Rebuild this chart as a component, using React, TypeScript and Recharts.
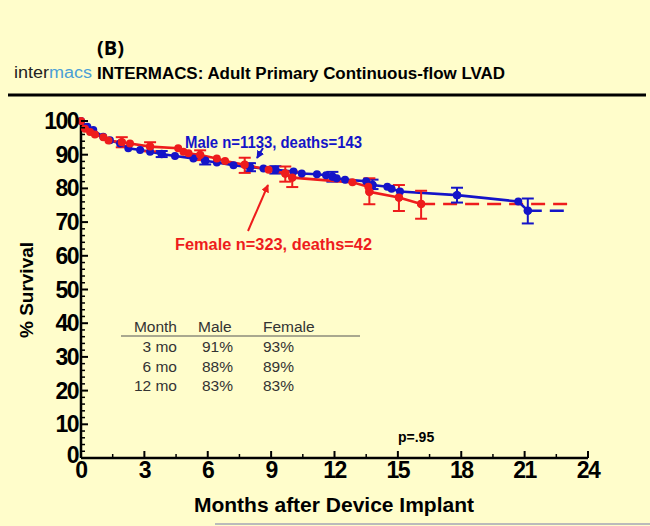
import React from 'react';
import { ComposedChart, Line, Scatter, XAxis, YAxis, ErrorBar } from 'recharts';

// Kaplan-Meier survival
const maleMonths = [0, 0.3, 0.58, 1.05, 1.37, 1.85, 2.24, 2.8, 3.27, 3.82, 4.45, 5.32, 5.88, 6.43, 7.22, 8.0, 8.64, 9.2, 10.06, 10.45, 11.17, 11.6, 11.9, 12.1, 12.5, 13.5, 13.8, 14.5, 14.7, 15.1, 17.8, 20.7, 21.15];
const maleSurvival = [100, 98.3, 97.3, 95.3, 94.3, 93.3, 91.9, 91.4, 90.9, 90.2, 89.6, 88.9, 88.2, 87.7, 86.9, 86.3, 85.9, 85.5, 85.0, 84.4, 84.2, 83.9, 83.5, 83.0, 82.6, 82.1, 81.0, 80.5, 79.9, 79.1, 78.0, 76.1, 73.4];
const maleErrMonths = [3.82, 5.88, 8.0, 9.2, 11.9, 13.8, 17.8, 21.15];
const maleErrLow = [89.3, 87.1, 85.1, 84.4, 82.0, 79.8, 75.8, 69.6];
const maleErrHigh = [91.1, 89.3, 87.5, 86.6, 84.9, 82.6, 80.2, 77.0];
const maleTailMonths = [21.15, 22.9];

const femaleMonths = [0, 0.19, 0.43, 0.66, 1.06, 1.3, 1.93, 2.32, 3.27, 4.6, 4.85, 5.09, 5.64, 6.43, 6.82, 7.75, 8.88, 9.67, 10.0, 12.85, 13.6, 13.65, 15.05, 16.1];
const femaleSurvival = [100, 97.7, 96.7, 96.0, 95.2, 94.2, 93.7, 93.3, 92.4, 91.9, 90.9, 90.4, 89.9, 88.9, 88.1, 87.0, 85.5, 84.4, 83.2, 81.8, 80.5, 79.0, 77.3, 75.4];
const femaleErrMonths = [1.93, 3.27, 5.64, 7.75, 9.67, 10.0, 13.65, 15.05, 16.1];
const femaleErrLow = [92.2, 91.0, 88.4, 84.6, 82.0, 80.4, 75.3, 73.3, 71.0];
const femaleErrHigh = [95.2, 93.7, 91.3, 89.1, 86.5, 85.0, 83.0, 81.0, 79.3];
const femaleTailMonths = [16.1, 23.2];

const xTicks = [0, 1.5, 3, 4.5, 6, 7.5, 9, 10.5, 12, 13.5, 15, 16.5, 18, 19.5, 21, 22.5, 24];
const yTicks = Array.from({ length: 51 }, (_, i) => i * 2);

const tableHeader = ['Month', 'Male', 'Female'];
const tableMonths = ['3 mo', '6 mo', '12 mo'];
const tableMaleVals = ['91%', '88%', '83%'];
const tableFemaleVals = ['93%', '89%', '83%'];

const BLUE = '#1414c8';
const RED = '#ee1c1c';
const BG = '#fffdcb';
const FONT = '"Liberation Sans", Arial, sans-serif';

const curve = (xs: number[], ys: number[]) => xs.map((x, i) => ({ x, y: ys[i] }));
const bars = (xs: number[], lo: number[], hi: number[], allX: number[], allY: number[]) =>
  xs.map((x, i) => {
    const y = allY[allX.indexOf(x)];
    return { x, y, err: [y - lo[i], hi[i] - y] };
  });
const tail = (xs: number[], ys: number[]) => xs.map((x) => ({ x, y: ys[ys.length - 1] }));

const maleData = curve(maleMonths, maleSurvival);
const femaleData = curve(femaleMonths, femaleSurvival);
const maleBars = bars(maleErrMonths, maleErrLow, maleErrHigh, maleMonths, maleSurvival);
const femaleBars = bars(femaleErrMonths, femaleErrLow, femaleErrHigh, femaleMonths, femaleSurvival);
const maleTail = tail(maleTailMonths, maleSurvival);
const femaleTail = tail(femaleTailMonths, femaleSurvival);

const YTick = (props: any) => {
  const { x, y, payload } = props;
  const v = payload.value;
  const major = v % 10 === 0;
  return (
    <g>
      <line x1={x} x2={x + (major ? 7 : 4)} y1={y} y2={y} stroke="#000" strokeWidth={major ? 2 : 1.5} />
      {major && (
        <text x={x - 3} y={y} dy={v === 0 ? 5 : 8} textAnchor="end" fontFamily={FONT} fontWeight="bold" fontSize={23} letterSpacing={-1.5} fill="#000">
          {v}
        </text>
      )}
    </g>
  );
};

const XTick = (props: any) => {
  const { x, y, payload } = props;
  const v = payload.value;
  const major = v % 3 === 0;
  return (
    <g>
      <line x1={x} x2={x} y1={y} y2={y - (major ? 7 : 4)} stroke="#000" strokeWidth={major ? 2 : 1.5} />
      {major && (
        <text x={x} y={y} dy={20} textAnchor="middle" fontFamily={FONT} fontWeight="bold" fontSize={23} letterSpacing={-1.5} fill="#000">
          {v}
        </text>
      )}
    </g>
  );
};

const dotShape = (color: string) => (p: any) => <circle cx={p.cx} cy={p.cy} r={4.2} fill={color} />;

export default function App() {
  return (
    <div style={{ position: 'absolute', left: 0, top: 0, width: 650, height: 526, background: BG, overflow: 'hidden' }}>
      <ComposedChart width={650} height={526} margin={{ top: 121, right: 62, bottom: 38, left: 0 }}>
        <XAxis
          dataKey="x"
          type="number"
          domain={[0, 24]}
          ticks={xTicks}
          interval={0}
          tickSize={0}
          tickMargin={0}
          tick={<XTick />}
          height={30}
          axisLine={{ stroke: '#000', strokeWidth: 2.5 }}
        />
        <YAxis
          type="number"
          domain={[0, 100]}
          ticks={yTicks}
          interval={0}
          tickSize={0}
          tickMargin={0}
          tick={<YTick />}
          width={81}
          axisLine={{ stroke: '#000', strokeWidth: 2.5 }}
        />
        <Line data={maleTail} dataKey="y" stroke={BLUE} strokeWidth={2.5} strokeDasharray="14 8" dot={false} isAnimationActive={false} />
        <Line data={femaleTail} dataKey="y" stroke={RED} strokeWidth={2.5} strokeDasharray="14 8" dot={false} isAnimationActive={false} />
        <Line data={maleData} dataKey="y" stroke={BLUE} strokeWidth={2.6} dot={{ r: 4, fill: BLUE, stroke: 'none' }} isAnimationActive={false} />
        <Scatter data={maleBars} dataKey="y" fill={BLUE} shape={dotShape(BLUE)} isAnimationActive={false}>
          <ErrorBar dataKey="err" direction="y" width={6} stroke={BLUE} strokeWidth={2} />
        </Scatter>
        <Line data={femaleData} dataKey="y" stroke={RED} strokeWidth={2.6} dot={{ r: 4, fill: RED, stroke: 'none' }} isAnimationActive={false} />
        <Scatter data={femaleBars} dataKey="y" fill={RED} shape={dotShape(RED)} isAnimationActive={false}>
          <ErrorBar dataKey="err" direction="y" width={6} stroke={RED} strokeWidth={2} />
        </Scatter>
      </ComposedChart>

      <svg width={650} height={526} style={{ position: 'absolute', left: 0, top: 0, pointerEvents: 'none' }}>
        <defs>
          <marker id="headBlue" viewBox="0 0 10 10" refX="9" refY="5" markerWidth="4" markerHeight="4" orient="auto">
            <path d="M0,0 L10,5 L0,10 z" fill={BLUE} />
          </marker>
          <marker id="headRed" viewBox="0 0 10 10" refX="9" refY="5" markerWidth="4" markerHeight="4" orient="auto">
            <path d="M0,0 L10,5 L0,10 z" fill={RED} />
          </marker>
        </defs>

        <text x={97} y={55} fontFamily='"Open Sans", sans-serif' fontWeight="bold" fontSize={20} fill="#000">(B)</text>

        <text x={14} y={78} fontFamily={FONT} fontSize={16} textLength={78} lengthAdjust="spacingAndGlyphs">
          <tspan fill="#222">inter</tspan>
          <tspan fill="#4a9fd6">macs</tspan>
        </text>
        <text x={97} y={79} fontFamily={FONT} fontWeight="bold" fontSize={16} fill="#000" textLength={408} lengthAdjust="spacingAndGlyphs">
          INTERMACS: Adult Primary Continuous-flow LVAD
        </text>
        <line x1={8} x2={646} y1={95} y2={95} stroke="#000" strokeWidth={3} />

        <text x={185} y={148} fontFamily={FONT} fontWeight="bold" fontSize={16} fill={BLUE} textLength={177} lengthAdjust="spacingAndGlyphs">
          Male n=1133, deaths=143
        </text>
        <line x1={263} y1={148} x2={257} y2={158} stroke={BLUE} strokeWidth={2} markerEnd="url(#headBlue)" />

        <text x={175} y={250} fontFamily={FONT} fontWeight="bold" fontSize={16} fill={RED} textLength={197} lengthAdjust="spacingAndGlyphs">
          Female n=323, deaths=42
        </text>
        <line x1={248} y1={231} x2={268} y2={185} stroke={RED} strokeWidth={2} markerEnd="url(#headRed)" />

        <text x={33} y={290} transform="rotate(-90 33 290)" textAnchor="middle" fontFamily={FONT} fontWeight="bold" fontSize={19} fill="#000">
          % Survival
        </text>
        <text x={334} y={512} textAnchor="middle" fontFamily={FONT} fontWeight="bold" fontSize={21} fill="#000">
          Months after Device Implant
        </text>

        <g fontFamily={FONT} fontSize={15.5} fill="#333">
          <text x={177} y={332} textAnchor="end">{tableHeader[0]}</text>
          <text x={198} y={332}>{tableHeader[1]}</text>
          <text x={263} y={332}>{tableHeader[2]}</text>
          {tableMonths.map((m, i) => (
            <g key={m}>
              <text x={177} y={352 + i * 19.5} textAnchor="end">{m}</text>
              <text x={202} y={352 + i * 19.5}>{tableMaleVals[i]}</text>
              <text x={263} y={352 + i * 19.5}>{tableFemaleVals[i]}</text>
            </g>
          ))}
        </g>
        <line x1={121} x2={360} y1={336} y2={336} stroke="#555" strokeWidth={1.2} />

        <text x={398} y={442} fontFamily={FONT} fontWeight="bold" fontSize={14} fill="#000">p=.95</text>

        <line x1={215} x2={650} y1={524} y2={524} stroke="#bbb" strokeWidth={2} />
      </svg>
    </div>
  );
}
